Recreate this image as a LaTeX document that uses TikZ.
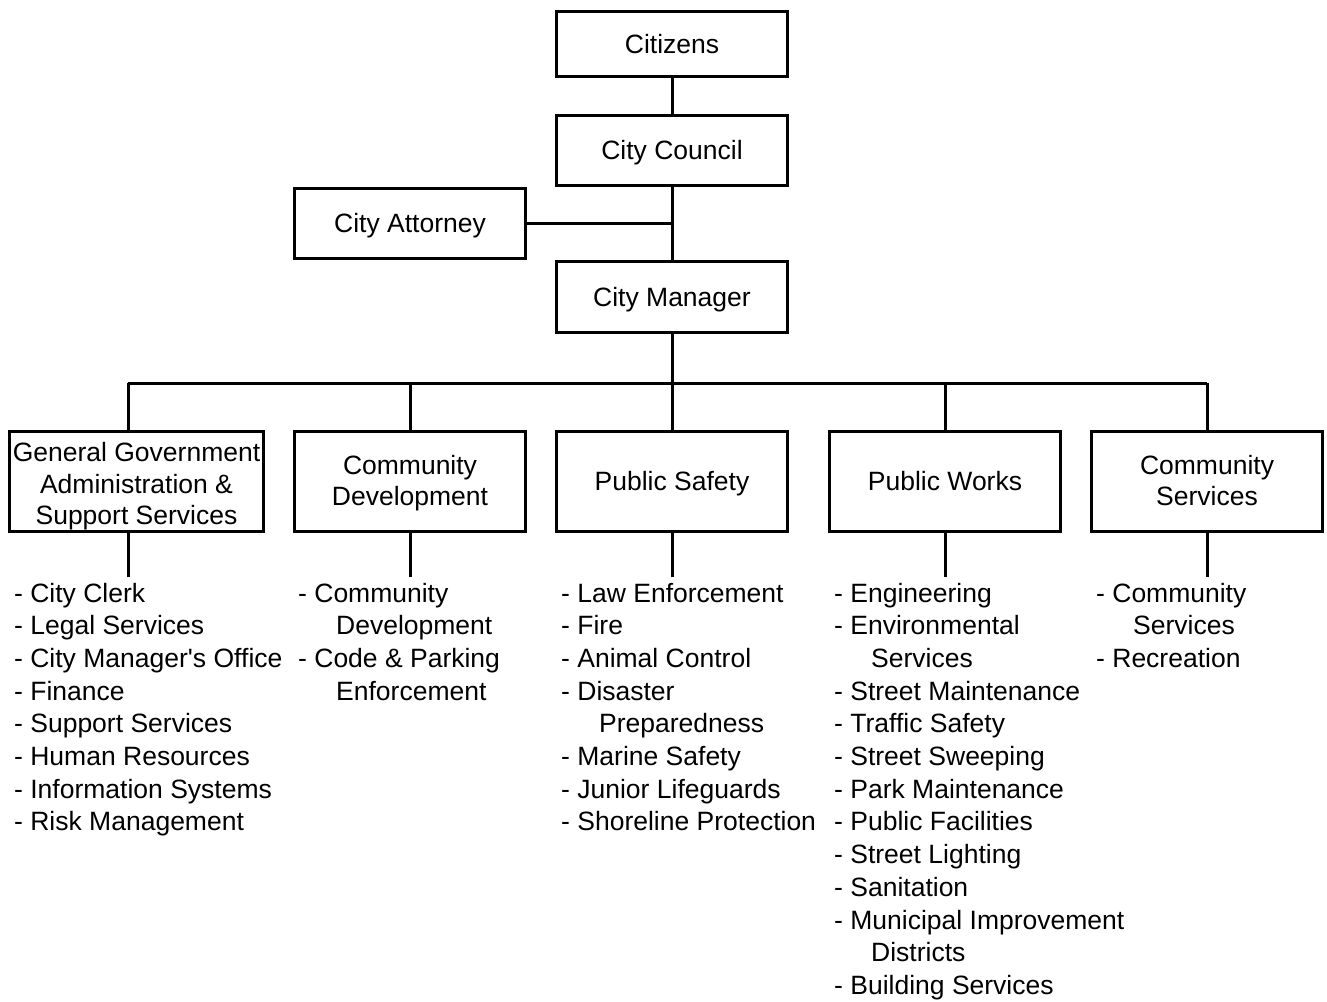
\documentclass[tikz,border=0pt]{standalone}
\usepackage{fontspec}
\newfontfamily\lsans{Liberation Sans}
\begin{document}
\begin{tikzpicture}[x=1pt,y=-1pt,
  every node/.style={font=\lsans\fontsize{26.5}{32.7}\selectfont},
  box/.style={draw,line width=3pt,minimum width=231pt,inner sep=0pt},
  btext/.style={inner sep=0pt,align=center,font=\lsans\fontsize{26.5}{31.5}\selectfont},
  wire/.style={line width=3pt},
  item/.style={anchor=base west,inner sep=0pt}]
\useasboundingbox (0,0) rectangle (1327,1001);
\node[box,minimum height=65pt] (cit) at (672,44) {};
\node[box,minimum height=70pt] (cc) at (672,150.5) {};
\node[box,minimum height=70pt] (att) at (410,223.5) {};
\node[box,minimum height=71pt] (cm) at (672,297) {};
\node[box,minimum height=100pt,minimum width=254pt] (d1) at (136.5,481.5) {};
\node[box,minimum height=100pt] (d2) at (410,481.5) {};
\node[box,minimum height=100pt] (d3) at (672,481.5) {};
\node[box,minimum height=100pt] (d4) at (945,481.5) {};
\node[box,minimum height=100pt] (d5) at (1207,481.5) {};
\node[btext] (cit-t) at ([yshift=-2.7pt]cit.center) {\strut Citizens};
\node[btext] (cc-t) at ([yshift=-2.7pt]cc.center) {\strut City Council};
\node[btext] (att-t) at ([yshift=-2.7pt]att.center) {\strut City Attorney};
\node[btext] (cm-t) at ([yshift=-2.7pt]cm.center) {\strut City Manager};
\node[btext] (d1-t) at ([yshift=-5.2pt]d1.center) {\strut General Government\\\strut Administration \&\\\strut Support Services};
\node[btext] (d2-t) at ([yshift=-2.2pt]d2.center) {\strut Community\\\strut Development};
\node[btext] (d3-t) at ([yshift=-2.7pt]d3.center) {\strut Public Safety};
\node[btext] (d4-t) at ([yshift=-2.7pt]d4.center) {\strut Public Works};
\node[btext] (d5-t) at ([yshift=-2.2pt]d5.center) {\strut Community\\\strut Services};
\draw[wire] (cit) -- (cc);
\draw[wire] (cc) -- (cm);
\draw[wire] (att.east) -- (att.east -| cc.south);
\coordinate (bus) at (672,383);
\coordinate (b1) at (128,383);
\coordinate (b5) at (1207,383);
\draw[wire] (cm.south) -- (bus);
\draw[wire] (b1) -- (b5);
\draw[wire] (b1) -- (b1 |- d1.north);
\draw[wire] (d2.north |- bus) -- (d2.north);
\draw[wire] (bus) -- (d3.north);
\draw[wire] (d4.north |- bus) -- (d4.north);
\draw[wire] (b5) -- (d5.north);
\coordinate (s1) at (128,577);
\coordinate (s2) at (410,577);
\coordinate (s3) at (672,577);
\coordinate (s4) at (945,577);
\coordinate (s5) at (1207,577);
\draw[wire] (s1 |- d1.south) -- (s1);
\draw[wire] (d2.south) -- (s2);
\draw[wire] (d3.south) -- (s3);
\draw[wire] (d4.south) -- (s4);
\draw[wire] (d5.south) -- (s5);
\foreach \t [count=\i] in {- City Clerk,- Legal Services,- City Manager's Office,- Finance,- Support Services,- Human Resources,- Information Systems,- Risk Management}
  \node[item] (l1-\i) at (14,{602+(\i-1)*32.7}) {\t};
\foreach \t [count=\i] in {- Community,\hspace*{38pt}Development,- Code \& Parking,\hspace*{38pt}Enforcement}
  \node[item] (l2-\i) at (298,{602+(\i-1)*32.7}) {\t};
\foreach \t [count=\i] in {- Law Enforcement,- Fire,- Animal Control,- Disaster,\hspace*{38pt}Preparedness,- Marine Safety,- Junior Lifeguards,- Shoreline Protection}
  \node[item] (l3-\i) at (561,{602+(\i-1)*32.7}) {\t};
\foreach \t [count=\i] in {- Engineering,- Environmental,\hspace*{37pt}Services,- Street Maintenance,- Traffic Safety,- Street Sweeping,- Park Maintenance,- Public Facilities,- Street Lighting,- Sanitation,- Municipal Improvement,\hspace*{37pt}Districts,- Building Services}
  \node[item] (l4-\i) at (834,{602+(\i-1)*32.7}) {\t};
\foreach \t [count=\i] in {- Community,\hspace*{37pt}Services,- Recreation}
  \node[item] (l5-\i) at (1096,{602+(\i-1)*32.7}) {\t};
\end{tikzpicture}
\end{document}
